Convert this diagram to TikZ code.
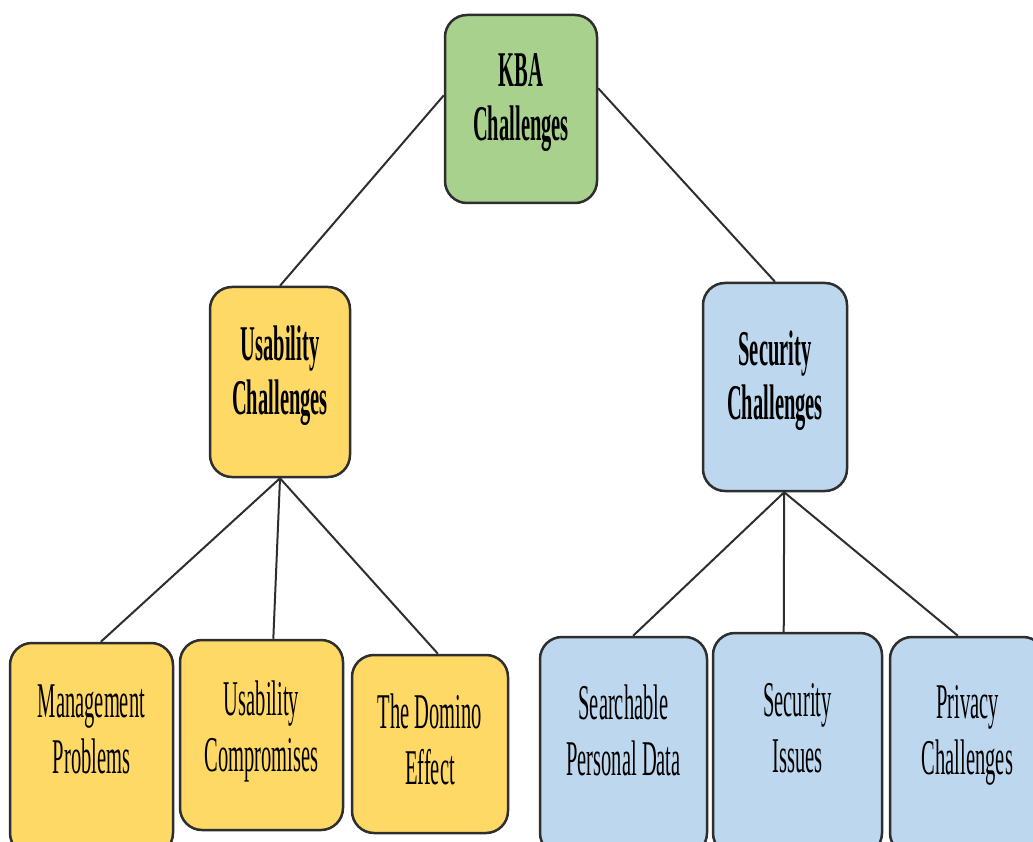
\documentclass[tikz,border=0pt]{standalone}
\usepackage{fontspec}
\setmainfont{Liberation Serif}[FakeStretch=0.41]
\usetikzlibrary{calc}

\definecolor{kbagreen}{HTML}{A9D18E}
\definecolor{usegold}{HTML}{FFD966}
\definecolor{secblue}{HTML}{BDD7EE}
\definecolor{edgegray}{HTML}{2E2E2E}

\begin{document}
\begin{tikzpicture}[x=1pt,y=-1pt,
    box/.style={draw=edgegray,line width=2.5pt,rounded corners=22pt,align=center,inner sep=0pt,
      font=\fontsize{50}{56}\selectfont},
    head/.style={box,font=\fontsize{50}{54}\selectfont\bfseries,lift=24pt},
    lift/.style={execute at end node={\rule[-#1]{0pt}{0pt}}},
    link/.style={draw=edgegray,line width=2pt}]
    \useasboundingbox (0,0) rectangle (1033,842);
    \clip (0,0) rectangle (1033,842);
    % top level
    \node[head,fill=kbagreen,minimum width=152pt,minimum height=188pt] (KBA) at (521,109) {KBA\\Challenges};
    % second level
    \node[head,fill=usegold,minimum width=140pt,minimum height=190pt] (Use) at (280,382) {Usability\\Challenges};
    \node[head,fill=secblue,minimum width=144pt,minimum height=208pt] (Sec) at (775,387) {Security\\Challenges};
    % leaves, usability side
    \node[box,lift=40pt,fill=usegold,minimum width=163pt,minimum height=212pt] (Man) at (91.5,749) {Management\\Problems};
    \node[box,lift=18pt,fill=usegold,minimum width=163pt,minimum height=190pt] (Comp) at (261.5,735) {Usability\\Compromises};
    \node[box,lift=10pt,fill=usegold,minimum width=156pt,minimum height=178pt] (Dom) at (430,744) {The Domino\\Effect};
    % leaves, security side
    \node[box,lift=32pt,fill=secblue,minimum width=167pt,minimum height=218pt] (Search) at (623.5,746) {Searchable\\Personal Data};
    \node[box,lift=32pt,fill=secblue,minimum width=169pt,minimum height=222pt] (Iss) at (797.5,744) {Security\\Issues};
    \node[box,lift=32pt,fill=secblue,minimum width=155pt,minimum height=218pt] (Priv) at (967.5,746) {Privacy\\Challenges};
    \draw[link] (KBA.170) -- (Use.north); \draw[link] (KBA.15) -- (Sec.north);
    \draw[link] (Use.south) -- (Man.85); \draw[link] (Use.south) -- (Comp.83); \draw[link] (Use.south) -- (Dom.85);
    \draw[link] (Sec.275) -- (Search.85); \draw[link] (Sec.275) -- (Iss.97); \draw[link] (Sec.275) -- (Priv.95);
\end{tikzpicture}
\end{document}
